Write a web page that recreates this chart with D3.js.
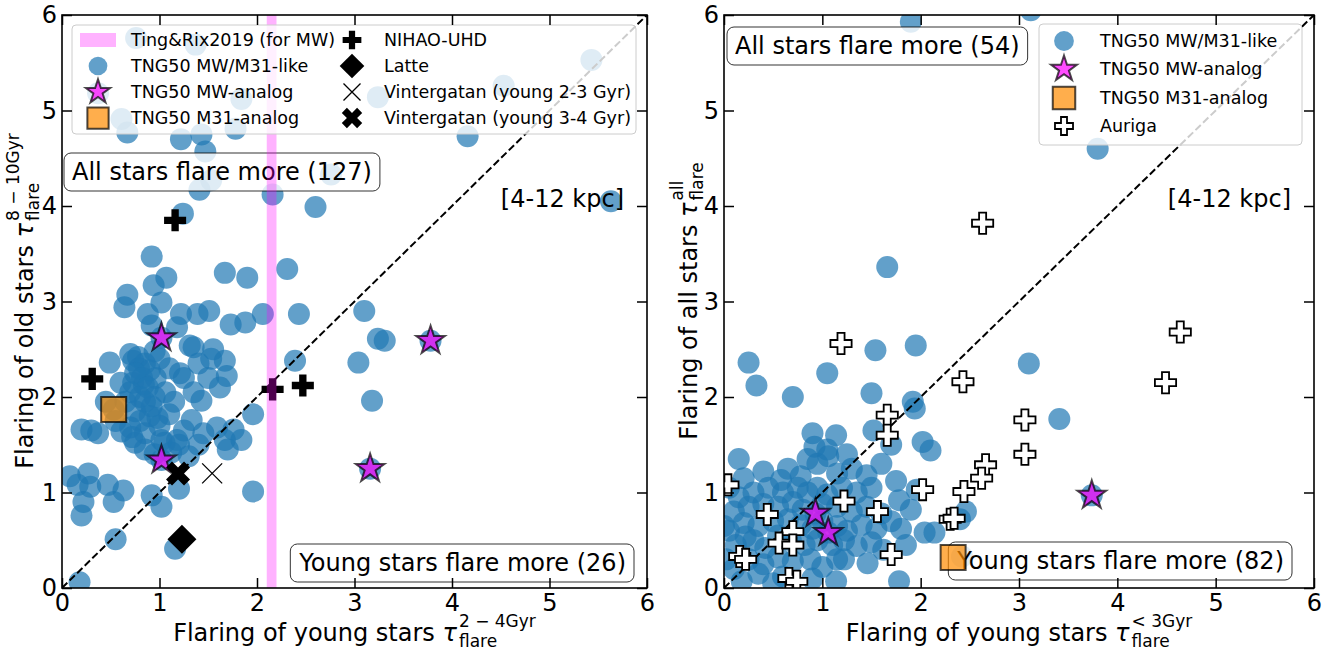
<!DOCTYPE html>
<html lang="en">
<head>
<meta charset="utf-8">
<title>Flaring of young vs old stars</title>
<script src="https://cdn.jsdelivr.net/npm/d3@7"></script>
<style>
  body { margin: 0; background: #fff; }
  svg text { font-family: "DejaVu Sans", sans-serif; fill: #000; }
</style>
</head>
<body>
<script>
// ---- data ----
var axisTicks = [0, 1, 2, 3, 4, 5, 6];
var tingRix2019 = [2.1, 2.2];

// left panel: old stars (8-10 Gyr) vs young stars (2-4 Gyr)
var leftTNG50 = [
  [0.76,5.76],[1.37,5.69],[0.37,5.18],[0.61,4.91],[0.67,4.77],[1.22,4.70],[1.43,4.75],[1.78,4.81],
  [1.84,5.12],[3.24,5.14],[4.53,5.26],[5.43,5.53],[4.16,4.73],[1.47,4.57],[2.76,4.33],[1.53,4.27],
  [1.41,4.17],[2.16,4.12],[2.60,3.99],[5.63,4.05],[1.24,3.92],[0.92,3.47],[1.67,3.30],[1.90,3.25],
  [2.31,3.34],[1.07,3.25],[0.94,3.17],[0.67,3.07],[0.64,2.94],[1.02,2.99],[0.88,2.87],[1.22,2.87],
  [1.39,2.87],[1.51,2.90],[1.73,2.76],[1.88,2.78],[2.06,2.87],[2.43,2.87],[3.10,2.90],
  [1.02,2.62],[0.92,2.75],[1.18,2.73],[1.31,2.54],[1.35,2.52],[1.53,2.40],[1.67,2.38],[1.69,2.22],
  [1.25,2.20],[1.21,2.25],[0.73,2.38],[0.79,2.30],[0.49,2.36],[0.73,2.15],[0.84,2.13],[0.96,2.20],
  [1.06,2.05],[0.92,1.90],[0.98,1.78],[1.43,1.96],[1.33,1.76],[1.59,1.68],[1.76,1.66],[1.84,1.55],
  [1.67,1.55],[1.96,1.82],[1.96,1.01],[1.18,1.55],[1.02,1.55],[0.75,1.52],[0.61,1.64],[0.37,1.62],
  [0.20,1.66],[2.39,2.38],[3.04,2.36],[3.18,1.96],[3.24,2.61],[3.31,2.59],[3.78,2.59],[3.16,1.25],
  [1.02,1.34],[0.53,1.87],
  [0.08,1.17],[0.27,1.20],[0.16,1.08],[0.29,1.06],[0.22,0.90],[0.20,0.76],[0.47,1.08],[0.63,1.02],
  [0.53,0.90],[0.92,0.97],[1.02,0.85],[1.20,1.04],[0.55,0.51],[1.16,0.41],[0.18,0.06],
  [0.70,2.45],[0.78,2.42],[0.85,2.35],[0.90,2.28],[0.75,2.25],[0.82,2.20],[0.88,2.10],[0.70,2.05],
  [0.80,2.00],[0.95,2.00],[0.85,1.95],[0.75,1.85],[0.90,1.80],[0.80,1.75],[1.00,1.70],[0.70,1.68],
  [0.85,1.62],[1.10,1.82],[1.10,2.30],[1.00,2.40],[0.95,2.48],[0.60,2.15],[0.55,1.75],[0.45,1.95],
  [0.65,1.95],[1.15,1.95],[1.25,1.65],[1.40,1.50],[0.85,1.45],[0.95,1.40],[1.12,1.42],[0.30,1.65],
  [1.50,2.20],[1.55,2.50],[1.40,2.35],[1.62,2.10],[1.70,1.45],[1.20,1.50],[1.30,1.38],[1.45,1.62],
  [1.35,2.05],[1.05,1.52],[0.72,1.58]
];
var leftMWanalog = [[1.02,2.62],[3.78,2.59],[1.02,1.34],[3.16,1.25]];
var leftM31analog = [[0.53,1.87]];
var nihaoUHD = [[0.31,2.19],[2.16,2.08],[2.47,2.12],[1.16,3.85]];
var latte = [[1.23,0.51]];
var vintergatan23 = [[1.54,1.20]];
var vintergatan34 = [[1.19,1.20]];

// right panel: all stars vs young stars (<3 Gyr)
var rightTNG50 = [
  [1.90,5.93],[3.12,6.05],[3.80,4.60],[1.66,3.36],[0.25,2.36],[0.33,2.12],[0.70,2.00],[1.05,2.25],
  [1.54,2.49],[1.95,2.54],[1.50,2.04],[3.10,2.35],[1.92,1.95],[1.94,1.88],[3.41,1.77],[0.90,1.62],
  [1.14,1.60],[0.92,1.48],[1.06,1.38],[1.52,1.65],[1.70,1.50],[2.02,1.53],[2.10,1.44],[2.14,0.58],
  [2.04,0.58],[2.46,0.80],[2.40,0.72],[1.78,0.92],[1.90,0.82],[1.96,1.03],[1.78,0.07],[1.14,0.07],
  [0.18,0.07],[1.46,0.26],[1.22,0.30],[0.58,1.13],[0.78,1.17],[0.00,0.65],[0.22,0.54],
  [0.93,0.78],[1.06,0.58],[3.74,0.97],[2.42,0.33],
  [0.05,1.05],[0.15,0.95],[0.30,1.00],[0.45,1.05],[0.60,1.00],[0.75,1.05],[0.85,1.00],[0.95,1.05],
  [1.05,0.98],[1.20,1.05],[1.35,1.00],[1.50,1.05],[0.10,0.80],[0.25,0.85],[0.40,0.88],[0.55,0.85],
  [0.70,0.90],[0.80,0.82],[1.00,0.88],[1.15,0.85],[1.30,0.80],[1.45,0.85],[1.60,0.78],[0.05,0.60],
  [0.20,0.68],[0.35,0.65],[0.50,0.70],[0.65,0.72],[0.78,0.66],[0.90,0.62],[1.00,0.70],[1.15,0.65],
  [1.25,0.60],[1.40,0.66],[1.55,0.62],[1.70,0.70],[0.12,0.45],[0.30,0.50],[0.42,0.42],[0.55,0.55],
  [0.68,0.50],[0.82,0.45],[0.95,0.50],[1.10,0.45],[1.22,0.50],[1.35,0.44],[1.50,0.48],[1.62,0.40],
  [0.25,0.30],[0.40,0.25],[0.55,0.32],[0.70,0.28],[0.88,0.30],[1.00,0.22],[1.15,0.30],[0.35,0.15],
  [0.60,0.12],[0.90,0.10],[0.50,0.05],[0.40,1.22],[0.65,1.25],[0.95,1.30],[1.15,1.20],[1.30,1.25],
  [0.85,1.35],[1.05,1.45],[0.20,1.15],[1.25,1.40],[1.45,1.18],[1.60,1.30],[1.75,1.12],[0.02,0.30],
  [0.10,0.20],[1.80,0.62],[1.85,0.45],[0.15,1.35]
];
var rightMWanalog = [[0.93,0.78],[1.06,0.58],[3.74,0.97]];
var rightM31analog = [[2.33,0.32]];
var auriga = [
  [2.63,3.82],[1.19,2.56],[2.43,2.16],[4.64,2.68],[4.49,2.15],[1.66,1.81],[1.66,1.60],[3.06,1.76],
  [3.06,1.40],[2.66,1.29],[2.62,1.15],[2.02,1.03],[2.44,1.01],[1.22,0.91],[1.56,0.80],[0.44,0.77],
  [2.30,0.72],[2.34,0.73],[0.04,1.08],[0.70,0.59],[0.56,0.47],[0.70,0.45],[0.16,0.33],[0.22,0.30],
  [1.70,0.35],[0.66,0.10],[0.74,0.07]
];

var leftNotes = ["All stars flare more (127)", "Young stars flare more (26)"];
var rightNotes = ["All stars flare more (54)", "Young stars flare more (82)"];
var radialRange = "[4-12 kpc]";

// ---- figure ----
var svg = d3.select("body").append("svg").attr("width", 1334).attr("height", 655);
var defs = svg.append("defs");

// layers: data (clipped) -> notes -> top (clipped) -> legend + axes
function makePanel(id, box) {
  var x = d3.scaleLinear().domain([0, 6]).range([box.left, box.right]);
  var y = d3.scaleLinear().domain([0, 6]).range([box.bottom, box.top]);
  defs.append("clipPath").attr("id", "clip-" + id)
    .append("rect").attr("x", box.left).attr("y", box.top)
    .attr("width", box.right - box.left).attr("height", box.bottom - box.top);
  var g = svg.append("g");
  var plot = g.append("g").attr("clip-path", "url(#clip-" + id + ")");
  var notes = g.append("g");
  var top = g.append("g").attr("clip-path", "url(#clip-" + id + ")");
  var over = g.append("g");
  return {x: x, y: y, g: over, plot: plot, notes: notes, top: top, box: box};
}

var xFilled = "M-1,-2L0,-1L1,-2L2,-1L1,0L2,1L1,2L0,1L-1,2L-2,1L-1,0L-2,-1Z";

function drawMarker(sel, kind, s) {
  s = s || 1;
  if (kind == "tng") {
    sel.append("circle").attr("r", 11 * s).attr("fill", "#1f77b4").attr("fill-opacity", 0.7);
  } else if (kind == "mw") {
    sel.append("path").attr("d", d3.symbol(d3.symbolStar, 253 * s * s)())
      .attr("fill", "#ff00ff").attr("fill-opacity", 0.7)
      .attr("stroke", "#000").attr("stroke-opacity", 0.7).attr("stroke-width", 2);
  } else if (kind == "m31") {
    sel.append("path").attr("d", d3.symbol(d3.symbolSquare, 625 * s * s)())
      .attr("fill", "#ff8c00").attr("fill-opacity", 0.7)
      .attr("stroke", "#000").attr("stroke-opacity", 0.7).attr("stroke-width", 2);
  } else if (kind == "nihao") {
    sel.append("path").attr("d", d3.symbol(d3.symbolCross, 270 * s * s)()).attr("fill", "#000");
  } else if (kind == "latte") {
    sel.append("path").attr("d", d3.symbol(d3.symbolSquare, 420 * s * s)())
      .attr("transform", "rotate(45)").attr("fill", "#000");
  } else if (kind == "vint23") {
    var h = 10 * s;
    sel.append("path").attr("d", "M" + -h + "," + -h + "L" + h + "," + h + "M" + -h + "," + h + "L" + h + "," + -h)
      .attr("stroke", "#000").attr("stroke-width", 1.3).attr("fill", "none");
  } else if (kind == "vint34") {
    sel.append("path").attr("d", xFilled).attr("transform", "scale(" + 6 * s + ")").attr("fill", "#000");
  } else if (kind == "auriga") {
    sel.append("path").attr("d", d3.symbol(d3.symbolCross, 250 * s * s)())
      .attr("fill", "#fff").attr("stroke", "#000").attr("stroke-width", 1.8);
  }
}

function addPoints(ax, layer, data, kind) {
  var sel = layer.selectAll(null).data(data).enter().append("g")
    .attr("transform", function(d) { return "translate(" + ax.x(d[0]) + "," + ax.y(d[1]) + ")"; });
  drawMarker(sel, kind);
}

function diagonal(ax) {
  ax.plot.append("line")
    .attr("x1", ax.x(0)).attr("y1", ax.y(0)).attr("x2", ax.x(6)).attr("y2", ax.y(6))
    .attr("stroke", "#000").attr("stroke-width", 2).attr("stroke-dasharray", "7.4,3.2");
}

// text with a rounded white box
function noteBox(ax, txt, x, y, anchor) {
  var g = ax.notes.append("g");
  var rect = g.append("rect");
  var t = g.append("text").attr("x", x).attr("y", y).attr("font-size", 24)
    .attr("text-anchor", anchor).text(txt);
  var b = t.node().getBBox();
  rect.attr("x", b.x - 8).attr("y", b.y - 5).attr("width", b.width + 16).attr("height", b.height + 10)
    .attr("rx", 7).attr("fill", "#fff").attr("fill-opacity", 0.8)
    .attr("stroke", "#000").attr("stroke-opacity", 0.8).attr("stroke-width", 1);
}

function drawAxes(ax) {
  var b = ax.box;
  var fmt = d3.format("d");
  function style(sel) {
    sel.select(".domain").remove();
    sel.selectAll(".tick line").attr("stroke-width", 1.5);
    sel.attr("font-size", 24).attr("font-family", "DejaVu Sans");
  }
  ax.g.append("g").attr("transform", "translate(0," + b.bottom + ")")
    .call(d3.axisBottom(ax.x).tickValues(axisTicks).tickFormat(fmt).tickSizeInner(-10).tickSizeOuter(0).tickPadding(6))
    .call(style);
  ax.g.append("g").attr("transform", "translate(" + b.left + ",0)")
    .call(d3.axisLeft(ax.y).tickValues(axisTicks).tickFormat(fmt).tickSizeInner(-10).tickSizeOuter(0).tickPadding(5))
    .call(style);
  ax.g.append("g").attr("transform", "translate(0," + b.top + ")")
    .call(d3.axisTop(ax.x).tickValues(axisTicks).tickSizeInner(-10).tickSizeOuter(0).tickFormat(""))
    .call(style);
  ax.g.append("g").attr("transform", "translate(" + b.right + ",0)")
    .call(d3.axisRight(ax.y).tickValues(axisTicks).tickSizeInner(-10).tickSizeOuter(0).tickFormat(""))
    .call(style);
  ax.g.append("rect").attr("x", b.left).attr("y", b.top)
    .attr("width", b.right - b.left).attr("height", b.bottom - b.top)
    .attr("fill", "none").attr("stroke", "#000").attr("stroke-width", 1.6);
}

// axis label like "Flaring of young stars τ^{sup}_{sub}"
function mathLabel(parent, tx, ty, rot, main, sup, sub) {
  var outer = parent.append("g").attr("transform", "translate(" + tx + "," + ty + ") rotate(" + rot + ")");
  var g = outer.append("g");
  var t = g.append("text").attr("font-size", 24);
  t.append("tspan").text(main);
  t.append("tspan").attr("font-style", "italic").text("τ");
  var w = t.node().getComputedTextLength() + 2;
  var s1 = g.append("text").attr("font-size", 17).attr("x", w).attr("y", -14).text(sup);
  var s2 = g.append("text").attr("font-size", 17).attr("x", w).attr("y", 6).text(sub);
  var total = w + Math.max(s1.node().getComputedTextLength(), s2.node().getComputedTextLength());
  g.attr("transform", "translate(" + (-total / 2) + ",0)");
}

function legend(ax, frame, rows, fs) {
  var g = ax.g.append("g");
  g.append("rect").attr("x", frame[0]).attr("y", frame[1])
    .attr("width", frame[2] - frame[0]).attr("height", frame[3] - frame[1])
    .attr("rx", 4).attr("fill", "#fff").attr("fill-opacity", 0.8)
    .attr("stroke", "#ccc").attr("stroke-width", 1);
  rows.forEach(function(r) {
    var h = g.append("g").attr("transform", "translate(" + r.hx + "," + r.y + ")");
    if (r.kind == "band") {
      h.append("rect").attr("x", -18).attr("y", -7).attr("width", 36).attr("height", 14)
        .attr("fill", "#ff00ff").attr("fill-opacity", 0.3);
    } else {
      drawMarker(h, r.kind, r.s || 0.85);
    }
    g.append("text").attr("x", r.tx).attr("y", r.y + 6).attr("font-size", fs).text(r.label);
  });
}

// ---- left panel ----
var L = makePanel("l", {left: 62, right: 647, top: 15, bottom: 588});
addPoints(L, L.plot, leftTNG50, "tng");
diagonal(L);
addPoints(L, L.plot, leftMWanalog, "mw");
addPoints(L, L.plot, leftM31analog, "m31");
addPoints(L, L.plot, nihaoUHD, "nihao");
addPoints(L, L.plot, latte, "latte");
addPoints(L, L.plot, vintergatan23, "vint23");
addPoints(L, L.plot, vintergatan34, "vint34");
noteBox(L, leftNotes[0], 72, 180, "start");
noteBox(L, leftNotes[1], 626, 571, "end");
L.notes.append("text").attr("x", 624).attr("y", 207).attr("font-size", 24).attr("text-anchor", "end").text(radialRange);
L.top.append("rect")
  .attr("x", L.x(tingRix2019[0])).attr("y", L.box.top)
  .attr("width", L.x(tingRix2019[1]) - L.x(tingRix2019[0])).attr("height", L.box.bottom - L.box.top)
  .attr("fill", "#ff00ff").attr("fill-opacity", 0.3);
legend(L, [72, 25, 636, 134], [
  {kind: "band", hx: 98, tx: 131, y: 40, label: "Ting&Rix2019 (for MW)"},
  {kind: "tng", hx: 98, tx: 131, y: 66, label: "TNG50 MW/M31-like"},
  {kind: "mw", hx: 98, tx: 131, y: 92, label: "TNG50 MW-analog"},
  {kind: "m31", hx: 98, tx: 131, y: 118, label: "TNG50 M31-analog"},
  {kind: "nihao", hx: 352, tx: 384, y: 40, label: "NIHAO-UHD"},
  {kind: "latte", hx: 352, tx: 384, y: 66, label: "Latte"},
  {kind: "vint23", hx: 352, tx: 384, y: 92, label: "Vintergatan (young 2-3 Gyr)"},
  {kind: "vint34", hx: 352, tx: 384, y: 118, label: "Vintergatan (young 3-4 Gyr)"}
], 17.5);
drawAxes(L);
mathLabel(svg, 354.5, 641, 0, "Flaring of young stars ", "2 − 4Gyr", "flare");
mathLabel(svg, 33, 301, -90, "Flaring of old stars ", "8 − 10Gyr", "flare");

// ---- right panel ----
var R = makePanel("r", {left: 724, right: 1314, top: 15, bottom: 588});
addPoints(R, R.plot, rightTNG50, "tng");
diagonal(R);
addPoints(R, R.plot, rightMWanalog, "mw");
addPoints(R, R.plot, auriga, "auriga");
noteBox(R, rightNotes[0], 735, 54, "start");
noteBox(R, rightNotes[1], 1284, 569, "end");
addPoints(R, R.top, rightM31analog, "m31");
R.notes.append("text").attr("x", 1291).attr("y", 207).attr("font-size", 24).attr("text-anchor", "end").text(radialRange);
legend(R, [1039, 24, 1302, 145], [
  {kind: "tng", hx: 1064, tx: 1100, y: 41, label: "TNG50 MW/M31-like", s: 0.9},
  {kind: "mw", hx: 1064, tx: 1100, y: 69, label: "TNG50 MW-analog", s: 0.9},
  {kind: "m31", hx: 1064, tx: 1100, y: 98, label: "TNG50 M31-analog", s: 0.9},
  {kind: "auriga", hx: 1064, tx: 1100, y: 126, label: "Auriga", s: 0.85}
], 17.5);
drawAxes(R);
mathLabel(svg, 1019, 641, 0, "Flaring of young stars ", "< 3Gyr", "flare");
mathLabel(svg, 697, 301, -90, "Flaring of all stars ", "all", "flare");
</script>
</body>
</html>
